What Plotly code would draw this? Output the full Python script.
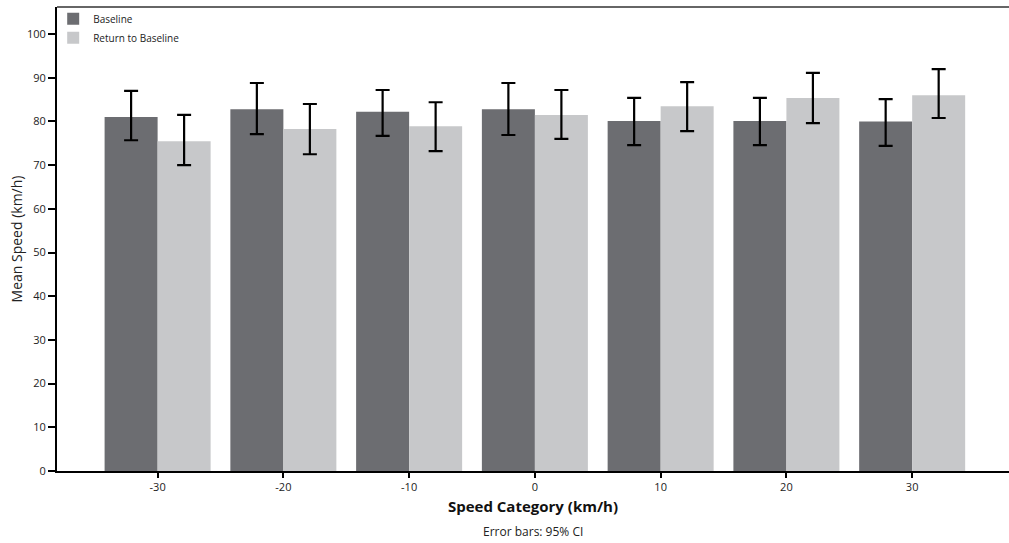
import plotly.graph_objects as go

categories = ["-30", "-20", "-10", "0", "10", "20", "30"]
baseline = [81.0, 82.8, 82.2, 82.8, 80.1, 80.1, 80.0]
baseline_hi = [87.0, 88.8, 87.2, 88.8, 85.4, 85.4, 85.1]
baseline_lo = [75.7, 77.1, 76.7, 76.9, 74.6, 74.6, 74.4]
returnb = [75.5, 78.3, 78.9, 81.5, 83.5, 85.4, 86.0]
returnb_hi = [81.5, 84.0, 84.4, 87.2, 89.0, 91.1, 92.0]
returnb_lo = [70.0, 72.5, 73.2, 76.0, 77.8, 79.6, 80.8]

FONT = "Open Sans, Noto Sans, sans-serif"

def err(vals, hi, lo):
    return dict(type="data", symmetric=False,
                array=[h - v for h, v in zip(hi, vals)],
                arrayminus=[v - l for v, l in zip(vals, lo)],
                color="black", thickness=2.2, width=7)

fig = go.Figure()
fig.add_trace(go.Bar(name="Baseline", x=categories, y=baseline,
                     marker=dict(color="#6c6d71", line=dict(width=0)),
                     error_y=err(baseline, baseline_hi, baseline_lo)))
fig.add_trace(go.Bar(name="Return to Baseline", x=categories, y=returnb,
                     marker=dict(color="#c7c8ca", line=dict(width=0)),
                     error_y=err(returnb, returnb_hi, returnb_lo)))

fig.update_layout(
    width=1009, height=543,
    margin=dict(l=57, r=0, t=7, b=72),
    paper_bgcolor="white", plot_bgcolor="white",
    barmode="group", bargap=0.157, bargroupgap=0,
    font=dict(family=FONT, size=11, color="#222"),
    showlegend=True,
    legend=dict(x=-0.004, y=1.006, xanchor="left", yanchor="top",
                bgcolor="rgba(0,0,0,0)", font=dict(size=10, color="#222"),
                itemwidth=30, tracegroupgap=0),
    xaxis=dict(type="category", range=[-0.8, 6.77],
               showline=True, linecolor="black", linewidth=2,
               ticks="outside", ticklen=5, tickwidth=2, tickcolor="black",
               showgrid=False, zeroline=False,
               tickfont=dict(size=11),
               title=dict(text="<b>Speed Category (km/h)</b>",
                          font=dict(size=15, color="#111"), standoff=8)),
    yaxis=dict(range=[0, 106.2], tickvals=list(range(0, 101, 10)),
               showline=True, linecolor="black", linewidth=2,
               ticks="outside", ticklen=7, tickwidth=2, tickcolor="black",
               showgrid=False, zeroline=False,
               tickfont=dict(size=11),
               title=dict(text="Mean Speed (km/h)", font=dict(size=14, color="#222"),
                          standoff=1)),
    shapes=[dict(type="line", xref="paper", yref="paper", x0=0, x1=1, y0=1, y1=1,
                 line=dict(color="#666", width=2))],
    annotations=[dict(text="Error bars: 95% CI", xref="paper", yref="paper",
                      x=0.5, y=-0.107, xanchor="center", yanchor="top",
                      showarrow=False, font=dict(size=12, color="#222"))],
)

fig.write_html("out.html", config={"displayModeBar": False},
               post_script="document.body.style.margin='0';document.body.style.overflow='hidden';")
